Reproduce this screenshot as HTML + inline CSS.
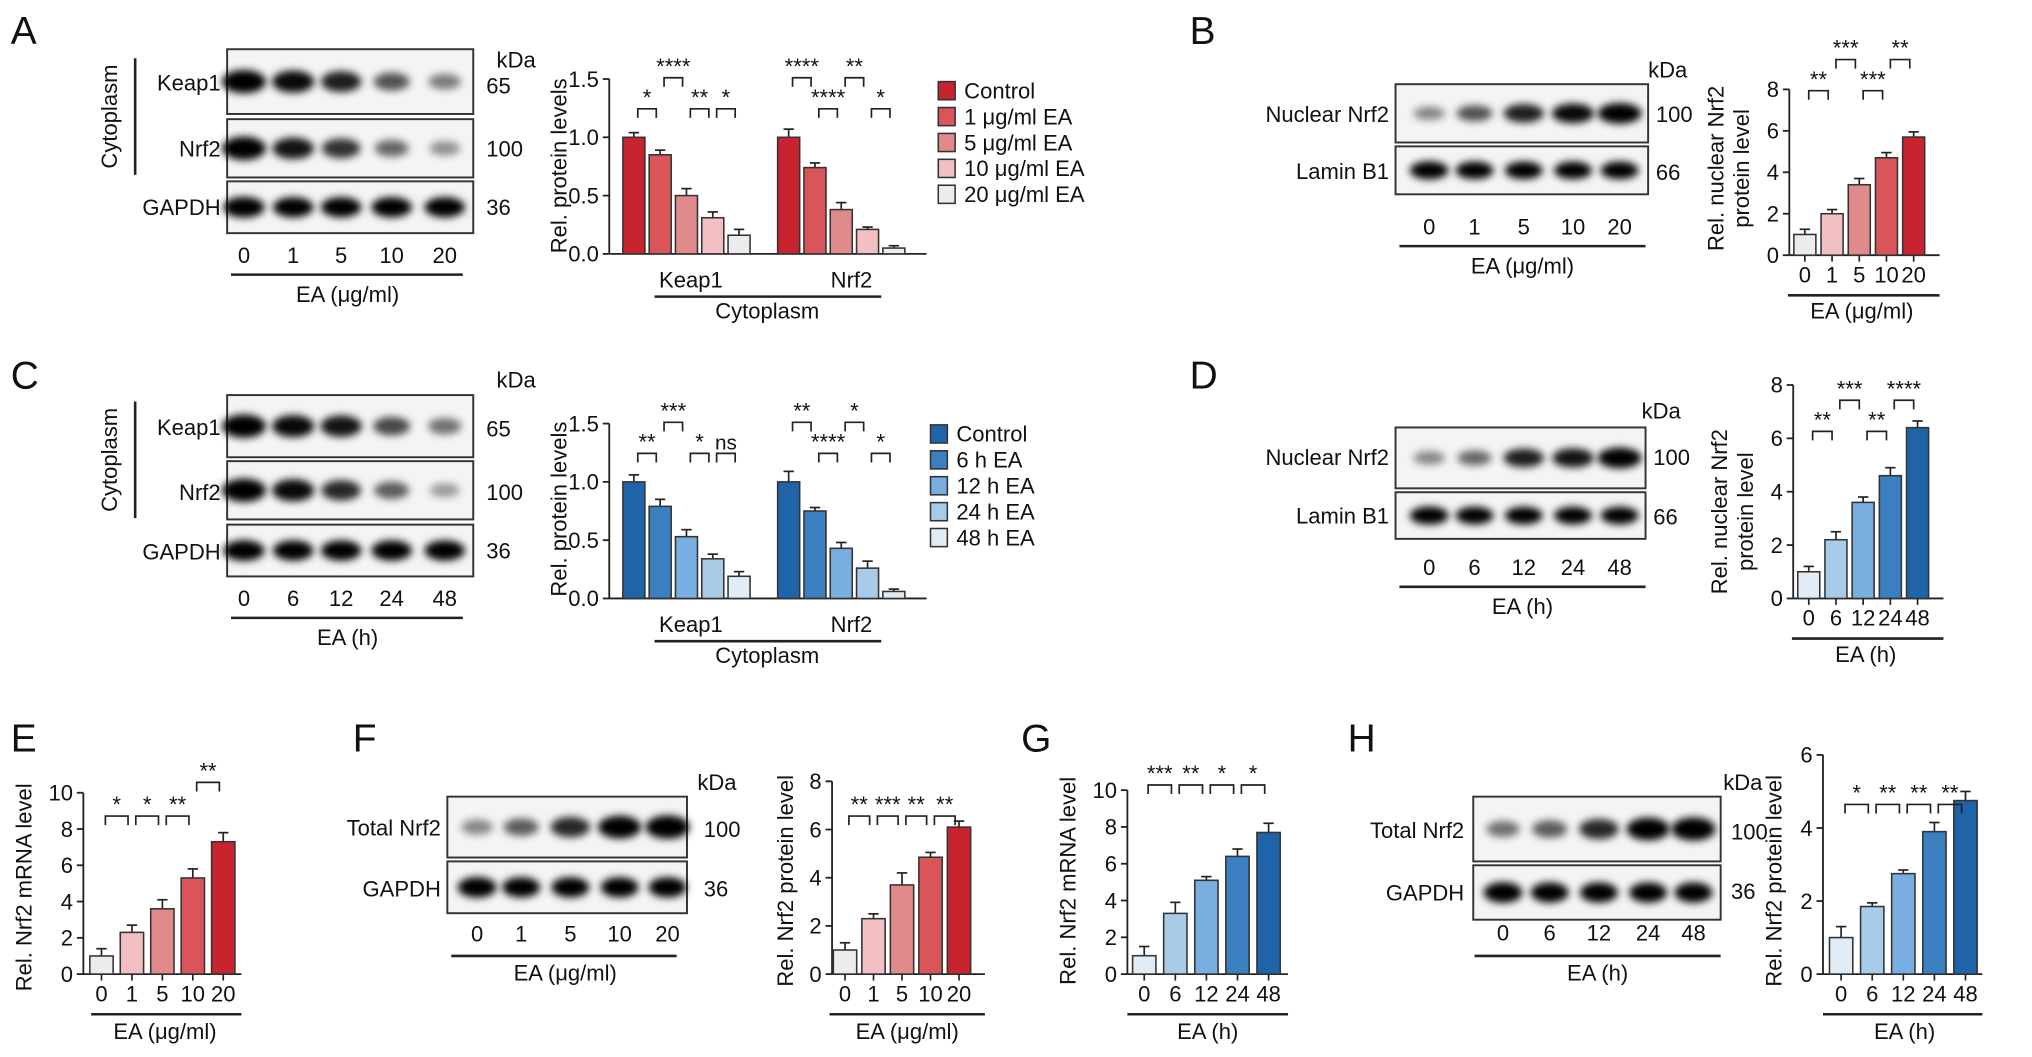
<!DOCTYPE html>
<html><head><meta charset="utf-8">
<style>
html,body{margin:0;padding:0;background:#fff;}
svg{display:block;font-family:"Liberation Sans",Arial,sans-serif;}
</style></head>
<body>
<svg id="fig" width="2032" height="1057" viewBox="0 0 1568 816" xmlns="http://www.w3.org/2000/svg">
<defs>
<filter id="blur" x="-50%" y="-50%" width="200%" height="200%"><feGaussianBlur stdDeviation="3"/></filter>
</defs>
</svg>
<script>
// ---------- DATA ----------
const redColors=["#c8242f","#d9555a","#e08a8c","#f2c0c2","#ececec"];
const blueColors=["#1f64a8","#3b7fc0","#78aee0","#a8cbe8","#e2ecf5"];
const concLabels=["0","1","5","10","20"];
const timeLabels=["0","6","12","24","48"];
const legendConc=["Control","1 μg/ml EA","5 μg/ml EA","10 μg/ml EA","20 μg/ml EA"];
const legendTime=["Control","6 h EA","12 h EA","24 h EA","48 h EA"];
const groupCats=["Keap1","Nrf2"];

const aKeap1=[1.0,0.85,0.50,0.31,0.16];
const aKeap1Err=[0.04,0.04,0.06,0.05,0.05];
const aNrf2=[1.0,0.74,0.38,0.21,0.05];
const aNrf2Err=[0.07,0.04,0.06,0.02,0.02];
const cKeap1=[1.0,0.79,0.53,0.34,0.19];
const cKeap1Err=[0.06,0.06,0.06,0.04,0.04];
const cNrf2=[1.0,0.75,0.43,0.26,0.06];
const cNrf2Err=[0.09,0.03,0.05,0.06,0.02];
const bVals=[1.0,2.0,3.4,4.7,5.7];
const bErr=[0.25,0.2,0.3,0.25,0.25];
const dVals=[1.0,2.2,3.6,4.6,6.4];
const dErr=[0.2,0.3,0.2,0.3,0.25];
const eVals=[1.0,2.3,3.6,5.3,7.3];
const eErr=[0.4,0.4,0.5,0.5,0.5];
const fVals=[1.0,2.3,3.7,4.85,6.1];
const fErr=[0.3,0.2,0.5,0.2,0.25];
const gVals=[1.0,3.3,5.1,6.4,7.7];
const gErr=[0.5,0.6,0.2,0.4,0.5];
const hVals=[1.0,1.85,2.75,3.9,4.75];
const hErr=[0.3,0.1,0.1,0.25,0.25];
const ticks15=[0,0.5,1.0,1.5];
const ticks8=[0,2,4,6,8];
const ticks10=[0,2,4,6,8,10];
const ticks6=[0,2,4,6];
const sigA=[[0,1,"*",0],[1,2,"****",1],[2,3,"**",0],[3,4,"*",0],[5,6,"****",1],[6,7,"****",0],[7,8,"**",1],[8,9,"*",0]];
const sigC=[[0,1,"**",0],[1,2,"***",1],[2,3,"*",0],[3,4,"ns",0],[5,6,"**",1],[6,7,"****",0],[7,8,"*",1],[8,9,"*",0]];
const sigB=[[0,1,"**",0],[1,2,"***",1],[2,3,"***",0],[3,4,"**",1]];
const sigD=[[0,1,"**",0],[1,2,"***",1],[2,3,"**",0],[3,4,"****",1]];
const sigE=[[0,1,"*",0],[1,2,"*",0],[2,3,"**",0],[3,4,"**",1]];
const sigF=[[0,1,"**",0],[1,2,"***",0],[2,3,"**",0],[3,4,"**",0]];
const sigG=[[0,1,"***",0],[1,2,"**",0],[2,3,"*",0],[3,4,"*",0]];
const sigH=[[0,1,"*",0],[1,2,"**",0],[2,3,"**",0],[3,4,"**",0]];
const bandKeapA=[1,0.9,0.8,0.55,0.35];
const bandNrfA=[1,0.85,0.7,0.45,0.25];
const bandKeapC=[1,0.9,0.85,0.6,0.4];
const bandNrfC=[1,0.9,0.75,0.5,0.2];
const bandNucB=[0.3,0.55,0.8,0.9,1];
const bandNucD=[0.3,0.45,0.8,0.85,1];
const bandTotF=[0.3,0.5,0.75,0.95,1];
const bandTotH=[0.4,0.5,0.75,0.95,1];
const bandFlat=[1,0.95,0.95,0.95,0.95];

// ---------- HELPERS ----------
const svg=document.getElementById('fig');
const NS="http://www.w3.org/2000/svg";
function mk(tag,attrs,parent){const e=document.createElementNS(NS,tag);for(const k in attrs)e.setAttribute(k,attrs[k]);(parent||svg).appendChild(e);return e;}
function txt(s,x,y,size,anchor,parent,rot){const t=mk('text',{x:x,y:y,'font-size':size,'text-anchor':anchor||'middle',fill:'#111'},parent);if(rot)t.setAttribute('transform','rotate(-90 '+x+' '+y+')');t.textContent=s;return t;}
function line(x1,y1,x2,y2,w,parent){return mk('line',{x1:x1,y1:y1,x2:x2,y2:y2,stroke:'#222','stroke-width':w||1.4},parent);}

function panelLetter(s,x,y){const t=txt(s,x,y,30,'start');

}

function blot(name,x,y,w,h,lanes,intens,bh,bw){
  const g=mk('g',{});
  
  
  mk('rect',{x:x,y:y,width:w,height:h,fill:'#f4f4f4',stroke:'#333','stroke-width':1.5},g);
  lanes.forEach((cx,i)=>{const a=intens[i];
    mk('ellipse',{cx:cx,cy:y+h/2,rx:(bw||16)*(0.6+0.4*a),ry:(bh||8)*(0.5+0.5*a),fill:'#000','fill-opacity':Math.min(1,0.2+0.85*a),filter:'url(#blur)'},g);});
  return g;
}

function barChart(o){
  const g=mk('g',{});
  
  
  const yS=v=>o.base-v*o.ppu;
  const xC=i=>o.x0+i*o.pitch+(o.gapAfter!==undefined&&i>o.gapAfter?o.gap:0);
  const top=yS(o.ticks[o.ticks.length-1]);
  const ax=line(o.axisX,top,o.axisX,o.base,1.4,g);
  
  const xa=line(o.axisX,o.base,o.xEnd,o.base,1.4,g);
  
  o.ticks.forEach(t=>{line(o.axisX-5,yS(t),o.axisX,yS(t),1.4,g);
    const tl=txt(o.tickFmt?t.toFixed(1):String(t),o.axisX-8,yS(t)+6,17,'end',g);
    });
  o.vals.forEach((v,i)=>{const cx=xC(i);
    const e=o.err[i];
    line(cx,yS(v+e),cx,yS(v),1.3,g);line(cx-4,yS(v+e),cx+4,yS(v+e),1.3,g);
    const r=mk('rect',{x:cx-o.bw/2,y:yS(v),width:o.bw,height:o.base-yS(v),fill:o.colors[i%5],stroke:'#333','stroke-width':1.2},g);
    
    
    if(o.xlabels){line(cx,o.base,cx,o.base+5,1.3,g);
      const xl=txt(o.xlabels[i],cx,o.base+21,17,'middle',g);
      }
  });
  o.sig.forEach(s=>{const x1=xC(s[0])+3,x2=xC(s[1])-3;const yy=o.sigY[s[3]];
    mk('path',{d:`M${x1} ${yy+7}V${yy}H${x2}V${yy+7}`,fill:'none',stroke:'#222','stroke-width':1.3},g);
    const st=txt(s[2],(x1+x2)/2,yy-3,s[2]==='ns'?16:17,'middle',g);
    });
  return {g,xC};
}

function legend(name,x,y,labels,colors){
  const g=mk('g',{});
  
  
  labels.forEach((l,i)=>{mk('rect',{x:x,y:y+i*20-7,width:13,height:14,fill:colors[i],stroke:'#333','stroke-width':1.2},g);
    const t=txt(l,x+20,y+i*20+6,17,'start',g);
    });
}

function lab(s,x,y,size,anchor,name,rot){const t=txt(s,x,y,size||17,anchor,null,rot);

return t;}

// ---------- PANEL A ----------
panelLetter("A",8,34);
const lanesA=[188,226,263,302,343];
blot('blot-keap1-a',175,38,190,50,lanesA,bandKeapA,9,17);
blot('blot-nrf2-a',175,92,190,45,lanesA,bandNrfA,9,17);
blot('blot-gapdh-a',175,140,190,40,lanesA,bandFlat,8,16);
lab("Keap1",170,70,17,'end','keap1-label');lab("Nrf2",170,121,17,'end','nrf2-label');lab("GAPDH",170,166,17,'end','gapdh-label');
lab("kDa",383,52,17,'start','kda-label');lab("65",375,72,17,'start','mw-65');lab("100",375,121,17,'start','mw-100');lab("36",375,166,17,'start','mw-36');
lab("Cytoplasm",90,90,17,'middle','cytoplasm-label',true);line(104,45,104,135,2);
lanesA.forEach((x,i)=>lab(concLabels[i],x,203,17,'middle','lane-label'));
line(178,212,357,212,2);lab("EA (μg/ml)",268,233,17,'middle','x-axis-title');
barChart({name:'chart-a',axisX:470,xEnd:715,base:196,ppu:90,ticks:ticks15,tickFmt:true,x0:489,pitch:20.3,gapAfter:4,gap:18,bw:17,
  vals:aKeap1.concat(aNrf2),err:aKeap1Err.concat(aNrf2Err),colors:redColors,sig:sigA,sigY:[84,60]});
lab("Keap1",533,222,17,'middle','x-group-keap1');lab("Nrf2",657,222,17,'middle','x-group-nrf2');
line(505,229,680,229,2);lab("Cytoplasm",592,246,17,'middle','x-axis-title');
lab("Rel. protein levels",437,128,17,'middle','y-axis-title',true);
legend('legend-a',724,70,legendConc,redColors);

// ---------- PANEL C ----------
panelLetter("C",8,300);
blot('blot-keap1-c',175,305,190,48,lanesA,bandKeapC,9,17);
blot('blot-nrf2-c',175,356,190,45,lanesA,bandNrfC,9,17);
blot('blot-gapdh-c',175,405,190,40,lanesA,bandFlat,8,16);
lab("Keap1",170,336,17,'end','keap1-label');lab("Nrf2",170,386,17,'end','nrf2-label');lab("GAPDH",170,432,17,'end','gapdh-label');
lab("kDa",383,299,17,'start','kda-label');lab("65",375,337,17,'start','mw-65');lab("100",375,386,17,'start','mw-100');lab("36",375,431,17,'start','mw-36');
lab("Cytoplasm",90,355,17,'middle','cytoplasm-label',true);line(104,310,104,400,2);
lanesA.forEach((x,i)=>lab(timeLabels[i],x,468,17,'middle','lane-label'));
line(178,477,357,477,2);lab("EA (h)",268,498,17,'middle','x-axis-title');
barChart({name:'chart-c',axisX:470,xEnd:715,base:462,ppu:90,ticks:ticks15,tickFmt:true,x0:489,pitch:20.3,gapAfter:4,gap:18,bw:17,
  vals:cKeap1.concat(cNrf2),err:cKeap1Err.concat(cNrf2Err),colors:blueColors,sig:sigC,sigY:[350,326]});
lab("Keap1",533,488,17,'middle','x-group-keap1');lab("Nrf2",657,488,17,'middle','x-group-nrf2');
line(505,495,680,495,2);lab("Cytoplasm",592,512,17,'middle','x-axis-title');
lab("Rel. protein levels",437,393,17,'middle','y-axis-title',true);
legend('legend-c',718,335,legendTime,blueColors);

// ---------- PANEL B ----------
panelLetter("B",918,34);
const lanesB=[1103,1138,1176,1214,1250];
blot('blot-nuclear-nrf2-b',1077,65,195,45,lanesB,bandNucB,8,17);
blot('blot-laminb1-b',1077,113,195,37,lanesB,bandFlat,7,15);
lab("Nuclear Nrf2",1072,94,17,'end','nuclear-nrf2-label');lab("Lamin B1",1072,138,17,'end','laminb1-label');
lab("kDa",1272,60,17,'start','kda-label');lab("100",1278,94,17,'start','mw-100');lab("66",1278,139,17,'start','mw-66');
lanesB.forEach((x,i)=>lab(concLabels[i],x,181,17,'middle','lane-label'));
line(1080,190,1270,190,2);lab("EA (μg/ml)",1175,211,17,'middle','x-axis-title');
barChart({name:'chart-b',axisX:1381,xEnd:1497,base:197,ppu:16,ticks:ticks8,x0:1393,pitch:21,bw:17,
  vals:bVals,err:bErr,colors:redColors.slice().reverse(),xlabels:concLabels,sig:sigB,sigY:[70,46]});
line(1380,228,1497,228,2);lab("EA (μg/ml)",1437,246,17,'middle','x-axis-title');
lab("Rel. nuclear Nrf2",1330,130,17,'middle','y-axis-title',true);lab("protein level",1350,130,17,'middle','y-axis-title',true);

// ---------- PANEL D ----------
panelLetter("D",918,300);
blot('blot-nuclear-nrf2-d',1077,330,193,47,lanesB,bandNucD,8,17);
blot('blot-laminb1-d',1077,380,193,36,lanesB,bandFlat,7,15);
lab("Nuclear Nrf2",1072,359,17,'end','nuclear-nrf2-label');lab("Lamin B1",1072,404,17,'end','laminb1-label');
lab("kDa",1267,323,17,'start','kda-label');lab("100",1276,359,17,'start','mw-100');lab("66",1276,405,17,'start','mw-66');
lanesB.forEach((x,i)=>lab(timeLabels[i],x,444,17,'middle','lane-label'));
line(1080,453,1270,453,2);lab("EA (h)",1175,474,17,'middle','x-axis-title');
barChart({name:'chart-d',axisX:1384,xEnd:1500,base:462,ppu:20.6,ticks:ticks8,x0:1396,pitch:21,bw:17,
  vals:dVals,err:dErr,colors:blueColors.slice().reverse(),xlabels:timeLabels,sig:sigD,sigY:[333,309]});
line(1383,493,1500,493,2);lab("EA (h)",1440,511,17,'middle','x-axis-title');
lab("Rel. nuclear Nrf2",1333,395,17,'middle','y-axis-title',true);lab("protein level",1353,395,17,'middle','y-axis-title',true);

// ---------- PANEL E ----------
panelLetter("E",8,580);
barChart({name:'chart-e',axisX:64,xEnd:186,base:752,ppu:14,ticks:ticks10,x0:78,pitch:23.5,bw:18,
  vals:eVals,err:eErr,colors:redColors.slice().reverse(),xlabels:concLabels,sig:sigE,sigY:[630,604]});
line(70,783,186,783,2);lab("EA (μg/ml)",127,802,17,'middle','x-axis-title');
lab("Rel. Nrf2 mRNA level",24,685,17,'middle','y-axis-title',true);

// ---------- PANEL F ----------
panelLetter("F",272,580);
const lanesF=[368,402,440,478,515];
blot('blot-total-nrf2-f',345,615,185,47,lanesF,bandTotF,9,17);
blot('blot-gapdh-f',345,665,185,40,lanesF,bandFlat,8,15);
lab("Total Nrf2",340,645,17,'end','total-nrf2-label');lab("GAPDH",340,692,17,'end','gapdh-label');
lab("kDa",538,610,17,'start','kda-label');lab("100",543,646,17,'start','mw-100');lab("36",543,692,17,'start','mw-36');
lanesF.forEach((x,i)=>lab(concLabels[i],x,727,17,'middle','lane-label'));
line(348,738,522,738,2);lab("EA (μg/ml)",436,757,17,'middle','x-axis-title');
barChart({name:'chart-f',axisX:642,xEnd:760,base:752,ppu:18.6,ticks:ticks8,x0:652,pitch:22,bw:18,
  vals:fVals,err:fErr,colors:redColors.slice().reverse(),xlabels:concLabels,sig:sigF,sigY:[630,604]});
line(640,783,760,783,2);lab("EA (μg/ml)",700,802,17,'middle','x-axis-title');
lab("Rel. Nrf2 protein level",612,680,17,'middle','y-axis-title',true);

// ---------- PANEL G ----------
panelLetter("G",788,580);
barChart({name:'chart-g',axisX:870,xEnd:994,base:752,ppu:14.2,ticks:ticks10,x0:883,pitch:24,bw:18,
  vals:gVals,err:gErr,colors:blueColors.slice().reverse(),xlabels:timeLabels,sig:sigG,sigY:[606,580]});
line(870,783,994,783,2);lab("EA (h)",932,802,17,'middle','x-axis-title');
lab("Rel. Nrf2 mRNA level",830,680,17,'middle','y-axis-title',true);

// ---------- PANEL H ----------
panelLetter("H",1040,580);
const lanesH=[1160,1196,1234,1272,1307];
blot('blot-total-nrf2-h',1137,615,191,50,lanesH,bandTotH,9,17);
blot('blot-gapdh-h',1137,668,191,42,lanesH,bandFlat,8,15);
lab("Total Nrf2",1130,647,17,'end','total-nrf2-label');lab("GAPDH",1130,695,17,'end','gapdh-label');
lab("kDa",1330,610,17,'start','kda-label');lab("100",1336,648,17,'start','mw-100');lab("36",1336,694,17,'start','mw-36');
lanesH.forEach((x,i)=>lab(timeLabels[i],x,726,17,'middle','lane-label'));
line(1138,738,1328,738,2);lab("EA (h)",1233,757,17,'middle','x-axis-title');
barChart({name:'chart-h',axisX:1407,xEnd:1530,base:752,ppu:28.2,ticks:ticks6,x0:1421,pitch:24,bw:18,
  vals:hVals,err:hErr,colors:blueColors.slice().reverse(),xlabels:timeLabels,sig:sigH,sigY:[621,596]});
line(1407,783,1530,783,2);lab("EA (h)",1470,802,17,'middle','x-axis-title');
lab("Rel. Nrf2 protein level",1375,680,17,'middle','y-axis-title',true);
</script>
</body></html>
